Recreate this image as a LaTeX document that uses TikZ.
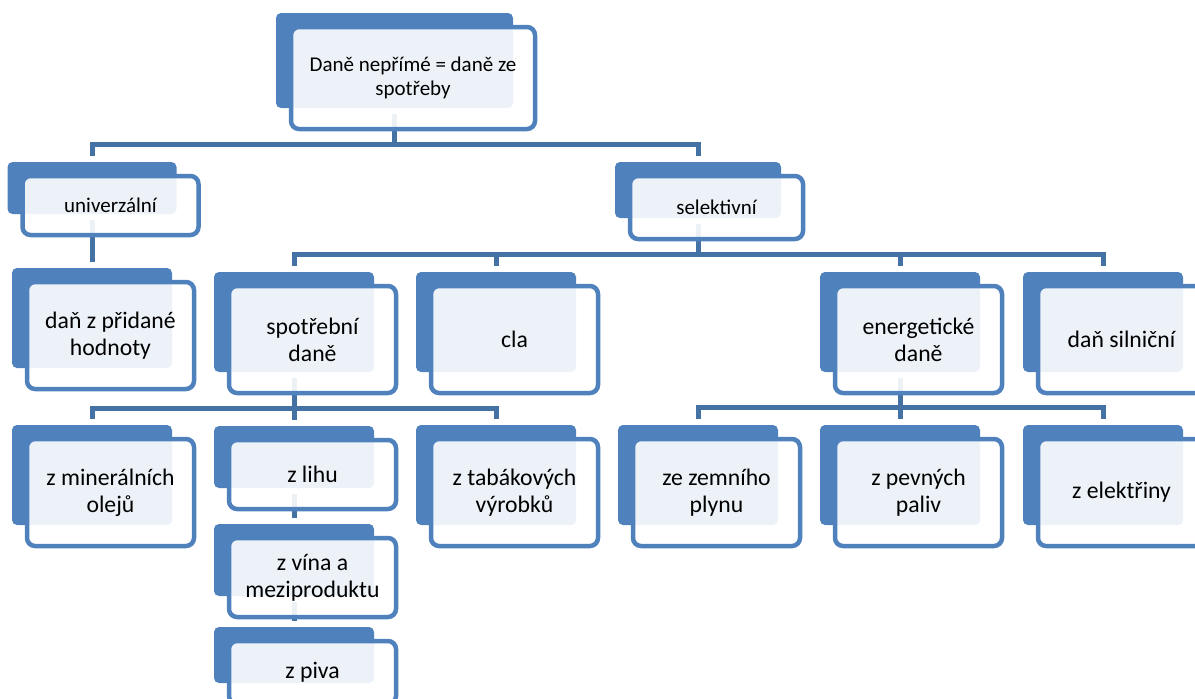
\documentclass[tikz,border=0pt]{standalone}
\usepackage{fontspec}
\setmainfont{Carlito}
\usepackage{tikz}
\usetikzlibrary{positioning}
\definecolor{boxblue}{RGB}{79,129,189}
\definecolor{linkblue}{RGB}{68,114,164}
\begin{document}
\begin{tikzpicture}[x=1pt,y=-1pt,
  back/.style={fill=boxblue,rounded corners=5pt,inner sep=0pt},
  front/.style={draw=boxblue,line width=4.5pt,fill=white,fill opacity=0.9,text opacity=1,rounded corners=8pt,inner sep=0pt,align=center,font=\fontsize{23.7}{27}\selectfont},
  small/.style={font=\fontsize{21}{24}\selectfont},
  link/.style={draw=linkblue,line width=5pt,shorten >=6pt}]
\useasboundingbox (0,0) rectangle (1195,699); \clip (0,0) rectangle (1195,699);
%back boxes
\node[back,minimum width=237pt,minimum height=95pt] (top) at (394.5,60.5) {};
\node[back,minimum width=169pt,minimum height=52pt] (univ) at (92,188) {}; \node[back,minimum width=166pt,minimum height=56pt] (selek) at (698,190) {};
\node[back,minimum width=160pt,minimum height=100pt] (dph) at (92,318) {};
\node[back,minimum width=160pt,minimum height=100pt] (spot) at (294,322) {}; \node[back,minimum width=160pt,minimum height=100pt] (cla) at (496,322) {};
\node[back,minimum width=160pt,minimum height=100pt] (energ) at (900,322) {}; \node[back,minimum width=160pt,minimum height=100pt] (silni) at (1103,322) {};
\node[back,minimum width=160pt,minimum height=100pt] (miner) at (92,475) {}; \node[back,minimum width=160pt,minimum height=62pt] (lihu) at (294,457) {}; \node[back,minimum width=160pt,minimum height=100pt] (tabak) at (496,475) {};
\node[back,minimum width=160pt,minimum height=72pt] (vina) at (294,560) {}; \node[back,minimum width=160pt,minimum height=56pt] (piva) at (294,655) {};
\node[back,minimum width=160pt,minimum height=100pt] (zemni) at (698,475) {}; \node[back,minimum width=160pt,minimum height=100pt] (pevny) at (900,475) {}; \node[back,minimum width=160pt,minimum height=100pt] (elekt) at (1103,475) {};
%connectors
\draw[link] ([yshift=-6pt]top.south) -- ++(0,30) -| (univ.north); \draw[link] ([yshift=-6pt]top.south) -- ++(0,30) -| (selek.north);
\draw[link] ([yshift=-6pt]univ.south) -- (dph.north);
\foreach \n in {spot,cla,energ,silni} \draw[link] ([yshift=-6pt]selek.south) -- ++(0,30) -| (\n.north);
\foreach \n in {miner,lihu,tabak} \draw[link] ([yshift=-6pt]spot.south) -- ++(0,30) -| (\n.north);
\draw[link] ([yshift=-6pt]lihu.south) -- (vina.north); \draw[link] ([yshift=-6pt]vina.south) -- (piva.north);
\foreach \n in {zemni,pevny,elekt} \draw[link] ([yshift=-6pt]energ.south) -- ++(0,29) -| (\n.north);
%front boxes
\node[front,small,minimum width=244pt,minimum height=102pt] (top-f) at ([shift={(18.5,17.5)}]top.center) {Daně nepřímé = daně ze\\spotřeby};
\node[front,small,minimum width=176pt,minimum height=59pt] (univ-f) at ([shift={(18.5,17.5)}]univ.center) {univerzální};
\node[front,small,minimum width=173pt,minimum height=63pt] (selek-f) at ([shift={(18.5,17.5)}]selek.center) {selektivní};
\node[front,minimum width=167pt,minimum height=107pt] (dph-f) at ([shift={(18.5,17.5)}]dph.center) {daň z přidané\\hodnoty};
\node[front,minimum width=167pt,minimum height=107pt] (spot-f) at ([shift={(18.5,17.5)}]spot.center) {spotřební\\daně};
\node[front,minimum width=167pt,minimum height=107pt] (cla-f) at ([shift={(18.5,17.5)}]cla.center) {cla};
\node[front,minimum width=167pt,minimum height=107pt] (energ-f) at ([shift={(18.5,17.5)}]energ.center) {energetické\\daně};
\node[front,minimum width=167pt,minimum height=107pt] (silni-f) at ([shift={(18.5,17.5)}]silni.center) {daň silniční};
\node[front,minimum width=167pt,minimum height=107pt] (miner-f) at ([shift={(18.5,17.5)}]miner.center) {z minerálních\\olejů};
\node[front,minimum width=167pt,minimum height=69pt] (lihu-f) at ([shift={(18.5,17.5)}]lihu.center) {z lihu};
\node[front,minimum width=167pt,minimum height=79pt] (vina-f) at ([shift={(18.5,17.5)}]vina.center) {z vína a\\meziproduktu};
\node[front,minimum width=167pt,minimum height=63pt] (piva-f) at ([shift={(18.5,17.5)}]piva.center) {z piva};
\node[front,minimum width=167pt,minimum height=107pt] (tabak-f) at ([shift={(18.5,17.5)}]tabak.center) {z tabákových\\výrobků};
\node[front,minimum width=167pt,minimum height=107pt] (zemni-f) at ([shift={(18.5,17.5)}]zemni.center) {ze zemního\\plynu};
\node[front,minimum width=167pt,minimum height=107pt] (pevny-f) at ([shift={(18.5,17.5)}]pevny.center) {z pevných\\paliv};
\node[front,minimum width=167pt,minimum height=107pt] (elekt-f) at ([shift={(18.5,17.5)}]elekt.center) {z elektřiny};
\end{tikzpicture}
\end{document}
